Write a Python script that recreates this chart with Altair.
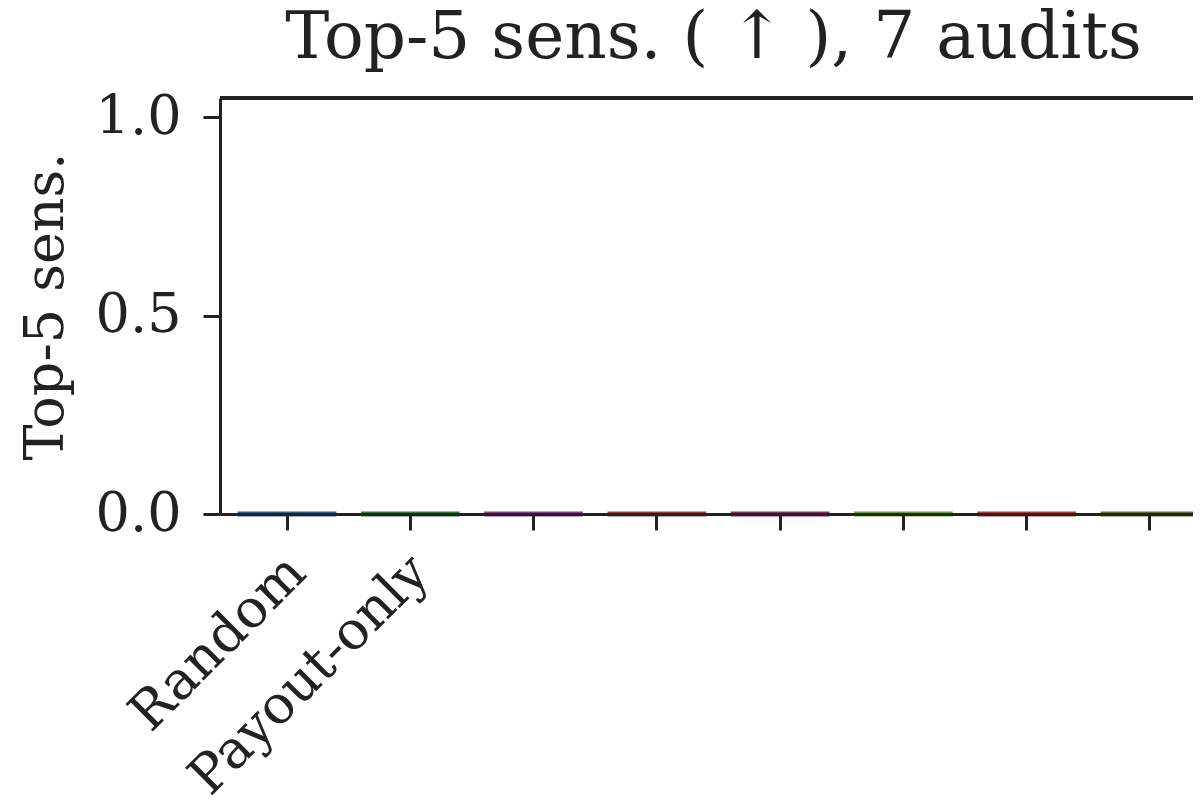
import altair as alt
import pandas as pd

# ---- data ----
categories = ["Random", "Payout-only", "", "", "", "", "", ""]
values = [0, 0, 0, 0, 0, 0, 0, 0]
colors = ["#2b5d8a", "#2f7a3e", "#8e3a8c", "#9a3b40", "#8a2f66", "#6e9a30", "#b8383a", "#5e6e2c"]
y_ticks = [0.0, 0.5, 1.0]
chart_title = "Top-5 sens. ( \u2191 ), 7 audits"
y_title = "Top-5 sens."

df = pd.DataFrame({"idx": list(range(len(categories))), "label": categories,
                   "value": values, "color": colors})

label_expr = "[" + ",".join("'" + c + "'" for c in categories) + "][datum.value]"

FONT = "DejaVu Serif"
INK = "#222222"
W, H = 973, 416          # visible plot area (page cuts the right side)
FULL_W = 997             # full width of the x range, as in the cropped reference

bars = alt.Chart(df).mark_bar(strokeWidth=5).encode(
    x=alt.X("idx:O",
            scale=alt.Scale(range=[0, FULL_W], paddingInner=0.2, paddingOuter=0.1435),
            axis=alt.Axis(title=None, labelExpr=label_expr, labelAngle=-45,
                          labelAlign="right", labelBaseline="middle",
                          labelFont=FONT, labelFontSize=53, labelColor=INK,
                          labelPadding=34, labelOffset=10, labelLimit=0,
                          tickSize=16, tickWidth=3, tickColor=INK,
                          domainWidth=3, domainColor=INK, zindex=1, labelOverlap=False)),
    y=alt.Y("value:Q",
            scale=alt.Scale(domain=[0, 1.048], nice=False, zero=True),
            axis=alt.Axis(values=y_ticks, format=".1f", title=y_title, grid=False,
                          labelFont=FONT, labelFontSize=54, labelColor=INK,
                          labelPadding=22, tickSize=17, tickWidth=3, tickColor=INK,
                          domainWidth=3, domainColor=INK, zindex=1,
                          titleFont=FONT, titleFontSize=54, titleFontWeight="normal",
                          titleColor=INK, titlePadding=22)),
    fill=alt.Fill("color:N", scale=None),
    stroke=alt.Stroke("color:N", scale=None),
)

top_spine = alt.Chart(df).mark_rule(color=INK, strokeWidth=3).encode(
    x=alt.value(0), x2=alt.value(W), y=alt.value(0)
)

chart = alt.layer(bars, top_spine).properties(
    width=W, height=H,
    title=alt.TitleParams(chart_title, font=FONT, fontSize=66, fontWeight="normal",
                          color=INK, offset=18, anchor="middle", frame="group", dx=7),
    autosize=alt.AutoSizeParams(type="none"),
    padding={"left": 212, "top": 90, "right": 0, "bottom": 281},
).configure_view(stroke=None)

chart.save("out.html", embed_options={"renderer": "svg", "actions": False})
